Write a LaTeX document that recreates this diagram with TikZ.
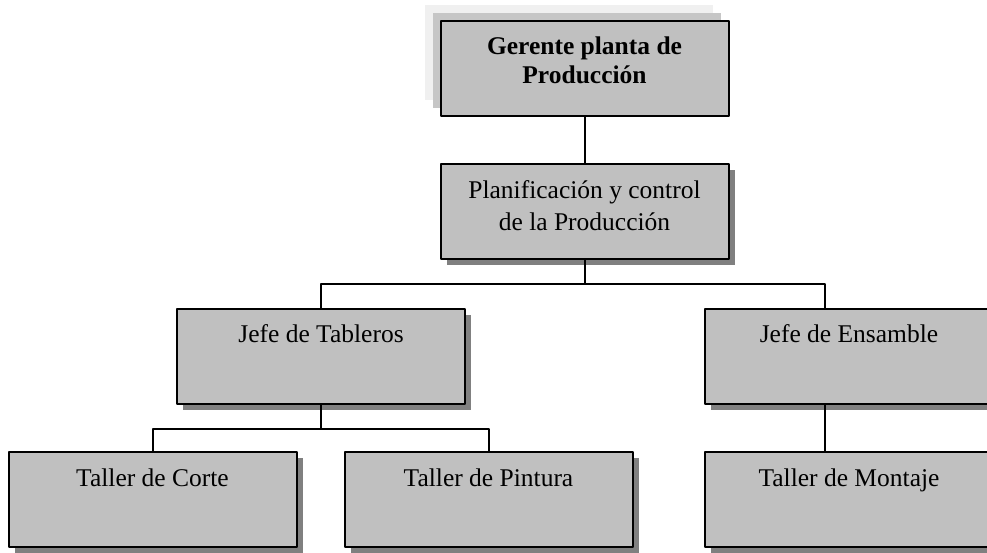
\documentclass[tikz,border=0pt]{standalone}
\usepackage{fontspec}
\setmainfont{Liberation Serif}
\usetikzlibrary{shadows}
\definecolor{cajagris}{HTML}{C0C0C0}
\definecolor{sombragris}{HTML}{808080}
\definecolor{sombraclara}{HTML}{F0F0F0}
\definecolor{sombramedia}{HTML}{C6C6C6}
\newcommand{\cajatexto}[1]{\parbox[c][95pt][t]{288pt}{\centering\rule{0pt}{34pt}#1}}
\begin{document}
\begin{tikzpicture}[x=1pt,y=-1pt,line join=round,
	caja/.style={draw,line width=2pt,fill=cajagris,inner sep=0pt,font=\fontsize{25.5}{32}\selectfont},
	sombra/.style={drop shadow={shadow xshift=6pt,shadow yshift=-6pt,fill=sombragris,opacity=1}},
	jefatura/.style={font=\fontsize{25.5}{29}\selectfont\bfseries,
		drop shadow={shadow xshift=-16pt,shadow yshift=16pt,fill=sombraclara,opacity=1},
		drop shadow={shadow xshift=-8pt,shadow yshift=8pt,fill=sombramedia,opacity=1}},
	conector/.style={line width=2pt}]
				\useasboundingbox (0,0) rectangle (987,552);
				\clip (0,0) rectangle (987,552);
				\node[caja,jefatura] (gerente) at (584.5,68) {\cajatexto{Gerente planta de\\Producción}};
				\foreach \n/\p/\t in {plan/{584.5,211.5}/{Planificación y control\\de la Producción},
					tableros/{321,356}/{Jefe de Tableros},ensamble/{849,356}/{Jefe de Ensamble},
					corte/{152.5,499.5}/{Taller de Corte},pintura/{488.5,499.5}/{Taller de Pintura},
					montaje/{849,499.5}/{Taller de Montaje}}
					\node[caja,sombra] (\n) at (\p) {\cajatexto{\t}};
				\path 
				(plan.south)+(0,24)coordinate(bus1) 
				(tableros.south)+(0,24)coordinate(bus2) 
				;
				\draw[conector] (gerente) -- (plan) (plan.south) -- (bus1) 
				(tableros.north) |- (bus1) -| ([xshift=-24pt]ensamble.north) 
				;
				\draw[conector] (tableros.south) -- (bus2) (corte.north) |- (bus2) -| (pintura.north) 
				([xshift=-24pt]ensamble.south) -- ([xshift=-24pt]montaje.north);
			\end{tikzpicture}
\end{document}
